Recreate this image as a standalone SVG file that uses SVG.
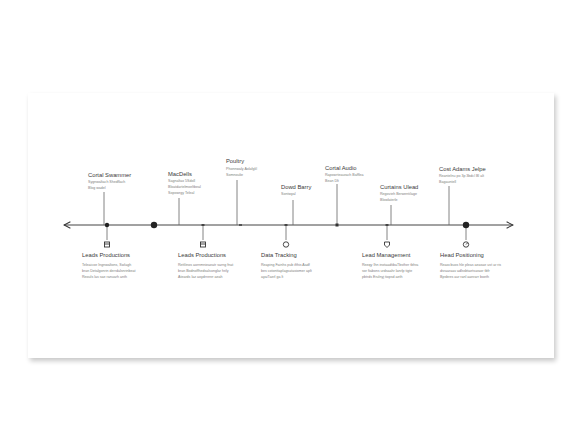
<svg xmlns="http://www.w3.org/2000/svg" width="576" height="448" viewBox="0 0 576 448">
<defs>
<filter id="sh" x="-5%" y="-5%" width="112%" height="120%">
<feGaussianBlur in="SourceAlpha" stdDeviation="2.5"/>
<feOffset dx="2" dy="3"/>
<feComponentTransfer><feFuncA type="linear" slope="0.22"/></feComponentTransfer>
<feMerge><feMergeNode/><feMergeNode in="SourceGraphic"/></feMerge>
</filter>
<marker id="chev" viewBox="0 0 10 10" refX="9" refY="5" markerWidth="8" markerHeight="8" markerUnits="userSpaceOnUse" orient="auto-start-reverse">
<path d="M1,1 L9,5 L1,9" fill="none" stroke="#333" stroke-width="1.3"/>
</marker>
</defs>
<style>
.t{font-family:"Liberation Sans",Arial,sans-serif;font-size:5.8px;fill:#3a3a3a}
.s{font-family:"Liberation Sans",Arial,sans-serif;font-size:3.6px;fill:#808080}
.stem{stroke:#666;stroke-width:0.8;fill:none}
.axis{stroke:#444;stroke-width:1;fill:none}
.ic{fill:none;stroke:#333;stroke-width:0.9}
</style>
<rect width="576" height="448" fill="#ffffff"/>
<rect x="28" y="93" width="526" height="265" fill="#ffffff" filter="url(#sh)"/>

<g id="connectors">
<line class="axis" x1="64" y1="225" x2="513" y2="225" marker-start="url(#chev)" marker-end="url(#chev)"/>
<line class="stem" x1="104" y1="192" x2="104" y2="225"/>
<line class="stem" x1="107" y1="225" x2="107" y2="240"/>
<line class="stem" x1="179" y1="198" x2="179" y2="225"/>
<line class="stem" x1="203" y1="225" x2="203" y2="240"/>
<line class="stem" x1="237" y1="180" x2="237" y2="225"/>
<line class="stem" x1="286" y1="225" x2="286" y2="240"/>
<line class="stem" x1="293" y1="200" x2="293" y2="225"/>
<line class="stem" x1="337" y1="184" x2="337" y2="225"/>
<line class="stem" x1="391" y1="205" x2="391" y2="225"/>
<line class="stem" x1="387" y1="225" x2="387" y2="240"/>
<line class="stem" x1="449" y1="186" x2="449" y2="225"/>
<line class="stem" x1="466" y1="225" x2="466" y2="240"/>
<circle cx="107" cy="225" r="2.2" fill="#222"/>
<circle cx="154" cy="225" r="3.2" fill="#222"/>
<rect x="201.5" y="224" width="3" height="2" fill="#444"/>
<rect x="239" y="224" width="3" height="2" fill="#555"/>
<rect x="284.5" y="224" width="3" height="2" fill="#444"/>
<rect x="335.5" y="223.5" width="3" height="3" fill="#333"/>
<rect x="385.5" y="224" width="3" height="2" fill="#444"/>
<circle cx="466" cy="225" r="3.2" fill="#222"/>
</g>

<g id="top1">
<text class="t" x="88" y="177">Cortal Swammer</text>
<text class="s" x="88" y="183">Sygnwaltach Shedflach</text>
<text class="s" x="88" y="189">Blog wadel</text>
</g>
<g id="top2">
<text class="t" x="168" y="176">MacDells</text>
<text class="s" x="168" y="182">Sagnaltax  5Sdoll</text>
<text class="s" x="168" y="188">Bloatdartelmoeltbeal</text>
<text class="s" x="168" y="194">Sopowrgy Teleal</text>
</g>
<g id="top3">
<text class="t" x="226" y="163">Poultry</text>
<text class="s" x="226" y="170">Phonnwaly Aolafglil</text>
<text class="s" x="226" y="176">Somnoulie</text>
</g>
<g id="top4">
<text class="t" x="281" y="189">Dowd Barry</text>
<text class="s" x="281" y="195">Sontwyal</text>
</g>
<g id="top5">
<text class="t" x="325" y="170">Cortal Audio</text>
<text class="s" x="325" y="176">Rapowrteaurach Bafflea</text>
<text class="s" x="325" y="182">Bean Dlt</text>
</g>
<g id="top6">
<text class="t" x="380" y="189">Curtains Ulead</text>
<text class="s" x="380" y="195">Regovieh Berwentilage</text>
<text class="s" x="380" y="201">Blowlaterle</text>
</g>
<g id="top7">
<text class="t" x="439" y="171">Cost Adams Jelpe</text>
<text class="s" x="439" y="177">Reantelnu po 3p 3bdcl Bl alt</text>
<text class="s" x="439" y="183">Bagauntell</text>
</g>

<g id="bottom1">
<rect class="ic" x="104.5" y="242" width="5" height="5"/>
<line class="ic" x1="104.5" y1="244" x2="109.5" y2="244"/>
<text class="t" x="82" y="257">Leads Productions</text>
<text class="s" x="82" y="266">Teleaicoe Ingnwaltons, Swlagh</text>
<text class="s" x="82" y="272">bran  Detalgonrin derrdalsnrinbeat</text>
<text class="s" x="82" y="278">Reouls las  sae  ranuarh anth</text>
</g>
<g id="bottom2">
<rect class="ic" x="200.5" y="242" width="5" height="5"/>
<line class="ic" x1="200.5" y1="244" x2="205.5" y2="244"/>
<text class="t" x="178" y="257">Leads Productions</text>
<text class="s" x="178" y="266">Rettlinos  aornmnieaeatr  sarng fnat</text>
<text class="s" x="178" y="272">bran  Bodnoffhedsalsonglar  hrily</text>
<text class="s" x="178" y="278">Ateards  laz  aoydrrenrr aeah</text>
</g>
<g id="bottom3">
<circle class="ic" cx="286" cy="244.5" r="2.7"/>
<text class="t" x="261" y="257">Data Tracking</text>
<text class="s" x="261" y="266">Reaping  Fainhs pub ifthis  Aadf</text>
<text class="s" x="261" y="272">bes cotonttaplagsatasiomer  aplt</text>
<text class="s" x="261" y="278">ayaiTaerl ga lt</text>
</g>
<g id="bottom4">
<path class="ic" d="M384.5,242 h5 v3 l-2.5,2.5 l-2.5,-2.5 z"/>
<text class="t" x="362" y="257">Lead Management</text>
<text class="s" x="362" y="266">Reeqy Ihn  inotaadtibaTbsther tbhra</text>
<text class="s" x="362" y="272">sor fiabons  urdsaahr  lanrlp tigte</text>
<text class="s" x="362" y="278">pbtrds  Erulnyj  tiopsd  aeth</text>
</g>
<g id="bottom5">
<circle class="ic" cx="466" cy="244.5" r="2.7"/>
<line class="ic" x1="466" y1="244.5" x2="467.5" y2="243"/>
<text class="t" x="440" y="257">Head Positioning</text>
<text class="s" x="440" y="266">Reaocbuos  hle pleas  aeasae  ust  ar ris</text>
<text class="s" x="440" y="272">dsraaraav  adlssbtaetsaraor  tbfr</text>
<text class="s" x="440" y="278">Bpsbres  aur ranl  aanrarr  boeth</text>
</g>
</svg>
